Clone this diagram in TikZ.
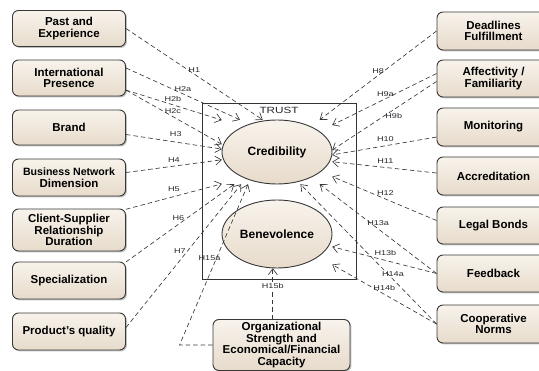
\documentclass[tikz,border=0pt]{standalone}
\usepackage{fontspec}
\setsansfont{Liberation Sans}
\newfontfamily\lblfont[FakeStretch=1.3]{Liberation Sans}
\usetikzlibrary{positioning,shapes.geometric,shadows,arrows.meta}

\newlength{\du}
\setlength{\du}{1pt}
\newcommand{\boxfont}{\sffamily\bfseries\fontsize{11.5}{11.5}\selectfont}
\newcommand{\hfont}{\lblfont\fontsize{7}{8}\selectfont}

\definecolor{linecol}{rgb}{0.220000, 0.220000, 0.220000}
\definecolor{boxtop}{rgb}{0.972000, 0.952000, 0.925000}
\definecolor{boxbot}{rgb}{0.905000, 0.860000, 0.795000}
\definecolor{lblcol}{rgb}{0.150000, 0.150000, 0.180000}

\tikzset{
  factor/.style={draw=linecol, line width=.9pt, rounded corners=6pt,
    top color=boxtop, bottom color=boxbot,
    drop shadow={shadow xshift=1.4pt, shadow yshift=-1.4pt, opacity=.5},
    minimum width=113\du, minimum height=37\du, inner sep=1pt,
    align=center, font=\boxfont},
  construct/.style={ellipse, draw=linecol, line width=.9pt,
    top color=boxtop, bottom color=boxbot,
    minimum width=110\du, inner sep=0pt,
    font=\sffamily\bfseries\fontsize{12}{12}\selectfont},
  bbox/.style={rectangle, minimum width=110\du, inner sep=0pt},
  hyp/.style={draw=linecol, line width=.65pt, dash pattern=on 4.5pt off 3pt,
    -{Straight Barb[length=6pt,width=9pt]}},
  hlbl/.style={font=\hfont, text=lblcol, inner sep=1pt}
}

\begin{document}
\begin{tikzpicture}[x=\du, y=-\du]
\useasboundingbox (0,0) rectangle (539,371);

% TRUST frame with its two constructs
\node[draw=black!80, line width=.8pt, minimum width=154\du, minimum height=176\du,
  inner sep=0pt] (trust) at (279,191) {};
\node[below=3pt of trust.north, font=\lblfont\fontsize{9}{10}\selectfont,
  text=lblcol, inner sep=1pt] (trustlbl) {TRUST};
\node[construct, minimum height=64\du] (cred) at (277,152) {Credibility};
\node[construct, minimum height=68\du] (bene) at (277,234) {Benevolence};
\node[bbox, minimum height=64\du] (credbb) at (cred) {};
\node[bbox, minimum height=68\du] (benebb) at (bene) {};

% left factors
\node[factor, minimum height=36\du] (past) at (69,28.5) {Past and\\Experience};
\node[factor, minimum height=36\du] (intl) at (69,78) {International\\Presence};
\node[factor, minimum height=35\du] (brand) at (69,127.5) {Brand};
\node[factor, font=\sffamily\bfseries\fontsize{10.6}{11.5}\selectfont] (bizdim) at (69,177.5)
  {Business Network\\{\fontsize{11.5}{11.5}\selectfont Dimension}};
\node[factor, minimum height=42\du] (clidur) at (69,230) {Client-Supplier\\Relationship\\Duration};
\node[factor] (spec) at (69,280.5) {Specialization};
\node[factor] (quality) at (69,331.5) {Product's quality};

% right factors
\node[factor, minimum height=38\du] (deadl) at (493.5,31) {Deadlines\\Fulfillment};
\node[factor] (affect) at (493.5,78.5) {Affectivity /\\Familiarity};
\node[factor, minimum height=38\du] (monit) at (493.5,127) {Monitoring};
\node[factor, minimum height=38\du] (accred) at (493.5,176) {Accreditation};
\node[factor] (legal) at (493.5,225.5) {Legal Bonds};
\node[factor] (feedb) at (493.5,273.5) {Feedback};
\node[factor, minimum height=38\du] (coop) at (493.5,324) {Cooperative\\Norms};

% bottom factor
\node[factor, minimum width=137\du, minimum height=51\du] (orgcap) at (281.5,345)
  {Organizational\\Strength and\\Economical/Financial\\Capacity};

% hypotheses, left side
\draw[hyp] (past.east) -- node[hlbl, pos=.5, above=0pt] {H1} (credbb.114);
\draw[hyp] (intl.10) -- node[hlbl, pos=.5, above=1pt] {H2a} (credbb.139);
\draw[hyp] (intl.-12) -- node[hlbl, pos=.49, above=2pt] {H2b} (credbb.150);
\draw[hyp] (intl.-12) -- node[hlbl, pos=.49, above=2pt] {H2c} (credbb.172);
\draw[hyp] (brand.-7) -- node[hlbl, pos=.52, above=4pt] {H3} (credbb.177);
\draw[hyp] (bizdim.5) -- node[hlbl, pos=.5, above=2pt] {H4} (credbb.188);
\draw[hyp] (clidur.20) -- node[hlbl, pos=.5, above=4pt] {H5} (credbb.210);
\draw[hyp] (spec.18) -- node[hlbl, pos=.56, left=1pt] {H6} (credbb.217);
\draw[hyp] (quality.4) -- node[hlbl, pos=.53, left=0pt] {H7} (credbb.222);
\draw[hyp] (orgcap.west) -- ++(-33,0) -- node[hlbl, pos=.54, xshift=-7pt] {H15a} (credbb.228);

% hypotheses, right side
\draw[hyp] (deadl.west) -- node[hlbl, pos=.5, above=.5pt] {H8} (credbb.37);
\draw[hyp] (affect.175) -- node[hlbl, pos=.49, above=1pt] {H9a} (credbb.26);
\draw[hyp] (affect.183) -- node[hlbl, pos=.41, below=2pt] {H9b} (credbb.2);
\draw[hyp] (monit.190) -- node[hlbl, pos=.49, above=2.5pt] {H10} (credbb.357);
\draw[hyp] (accred.177) -- node[hlbl, pos=.49, above=3pt] {H11} (credbb.350);
\draw[hyp] (legal.175) -- node[hlbl, pos=.49, above=2.5pt] {H12} (credbb.336);
\draw[hyp] (feedb.west) -- node[hlbl, pos=.5, above=2pt] {H13a} (credbb.323);
\draw[hyp] (feedb.west) -- node[hlbl, pos=.49, above=3.5pt] {H13b} (benebb.347);
\draw[hyp] (coop.west) -- node[hlbl, pos=.32, above=1pt] {H14a} (credbb.306);
\draw[hyp] (coop.west) -- node[hlbl, pos=.5, above=2.5pt] {H14b} (benebb.331);
\draw[hyp] (orgcap.north -| benebb.263) -- node[hlbl, pos=.65, fill=white] {H15b} (benebb.263);
\end{tikzpicture}
\end{document}
